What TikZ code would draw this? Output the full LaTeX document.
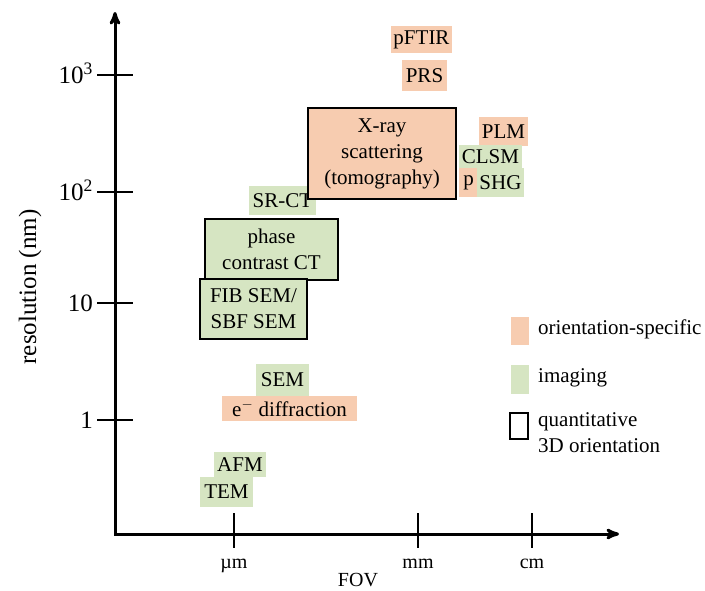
\documentclass[tikz,border=0pt]{standalone}
\usepackage{fontspec}
\setmainfont{Liberation Serif}
\usetikzlibrary{arrows}
\definecolor{orspec}{rgb}{0.97,0.80,0.69}
\definecolor{imgreen}{rgb}{0.84,0.90,0.76}

\begin{document}
\begin{tikzpicture}[line join=miter,>=stealth',x=1pt,y=-1pt,
    lbl/.style={inner sep=0pt,font=\fontsize{21}{26}\selectfont,align=center},
    orient/.style={lbl,fill=orspec},
    imaging/.style={lbl,fill=imgreen},
    quant/.style={draw=black,line width=2.5pt},
    axlbl/.style={inner sep=0pt,font=\fontsize{20}{24}\selectfont}]
    \useasboundingbox (0,0) rectangle (705,590);
    % axes
    \coordinate (O) at (115,534);
    \coordinate (ytop) at (115,12);
    \coordinate (xend) at (619,534);
    \draw [line width=3pt,<->] (ytop) -- (O) -- (xend);
    \foreach \y/\t in {75/10\textsuperscript{3},192/10\textsuperscript{2},303/10,420/1} {
        \draw [line width=2pt] (97,\y) -- (133,\y);
        \node [inner sep=0pt,anchor=base east,font=\fontsize{25}{30}\selectfont] (ylab\y) at (93,{\y+8.5}) {\t};
    }
    \foreach \x/\t in {234/µm,418/mm,532/cm} {
        \draw [line width=2pt] (\x,513) -- (\x,548);
        \node [axlbl,anchor=base] (xlab\x) at (\x,568) {\t};
    }
    \node [axlbl,anchor=base] (fov) at (358,586) {FOV};
    \node [rotate=90,inner sep=0pt,font=\fontsize{25}{30}\selectfont] (res) at (30,287) {resolution (nm)};
    % methods
    \node [orient,minimum width=61pt,minimum height=27pt] (pftir) at (421.5,39.5) {pFTIR};
    \node [orient,minimum width=45pt,minimum height=31pt] (prs) at (424.5,75.5) {PRS};
    \node [imaging,minimum width=67pt,minimum height=29pt] (srct) at (282.5,200.5) {SR-CT};
    \node [orient,quant,minimum width=148pt,minimum height=91pt] (xray) at (382,153.5) {X-ray\\scattering\\(tomography)};
    \node [orient,minimum width=49pt,minimum height=29pt] (plm) at (503.5,131.5) {PLM};
    \node [imaging,minimum width=63pt,minimum height=23pt] (clsm) at (490.5,156.5) {CLSM};
    \node [orient,minimum width=19pt,minimum height=29pt] (pshgp) at (468.5,182.5) {p};
    \node [imaging,minimum width=47pt,minimum height=29pt] (pshg) at (500.5,182.5) {SHG};
    \node [imaging,quant,minimum width=133pt,minimum height=61pt] (phase) at (271.5,249.5) {phase\\contrast CT};
    \node [imaging,quant,minimum width=107pt,minimum height=60pt] (fib) at (253.5,309) {FIB SEM/\\SBF SEM};
    \node [imaging,minimum width=53pt,minimum height=32pt] (sem) at (282.5,380) {SEM};
    \node [orient,minimum width=135pt,minimum height=25pt] (ediff) at (289.5,408.5) {e$^{-}$ diffraction};
    \node [imaging,minimum width=52pt,minimum height=25pt] (afm) at (240,464.5) {AFM};
    \node [imaging,minimum width=53pt,minimum height=30pt] (tem) at (226.5,492) {TEM};
    % legend
    \node [fill=orspec,inner sep=0pt,minimum width=18pt,minimum height=28pt] (legor) at (520,331) {};
    \node [fill=imgreen,inner sep=0pt,minimum width=18pt,minimum height=29pt] (legim) at (520,379.5) {};
    \node [quant,inner sep=0pt,minimum width=18pt,minimum height=26pt] (legqu) at (519,426) {};
    \node [lbl,anchor=west] (legortxt) at (538,329) {orientation-specific};
    \node [lbl,anchor=west] (legimtxt) at (538,378) {imaging};
    \node [lbl,anchor=west,align=left] (legqutxt) at (538,433) {quantitative\\3D orientation};
\end{tikzpicture}
\end{document}
